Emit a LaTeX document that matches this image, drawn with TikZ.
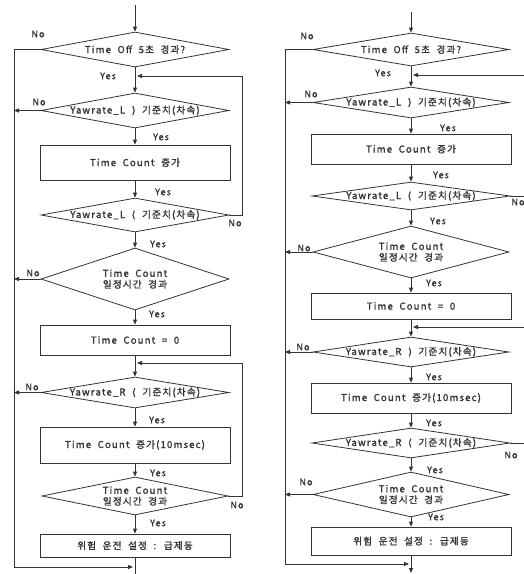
\documentclass[tikz,border=0pt]{standalone}
\usepackage{fontspec}
\setmainfont{Noto Sans CJK KR}[LetterSpace=12,WordSpace=2,FakeBold=1.5]
\newfontfamily\brk{DejaVu Sans}[FakeBold=1.5]
\newcommand{\gtb}{{\brk ⟩}}
\newcommand{\ltb}{{\brk ⟨}}
\usetikzlibrary{shapes.geometric,arrows.meta}
\definecolor{ink}{HTML}{333333}
\begin{document}
\begin{tikzpicture}[x=1pt,y=-1pt,
  line/.style={draw=ink,line width=0.8pt},
  arr/.style={line,-{Triangle[length=5pt,width=4pt]}},
  dia/.style={diamond,draw=ink,line width=0.8pt,inner sep=0pt,aspect=5},
  box/.style={rectangle,draw=ink,line width=0.8pt,inner sep=0pt},
  txt/.style={text=ink,font=\fontsize{9.6}{11}\selectfont,align=center,inner sep=0pt},
  lbl/.style={text=ink,font=\fontsize{9}{10}\selectfont,inner sep=0pt}]
\useasboundingbox (0,0) rectangle (524,574);
\clip (0,0) rectangle (524,574);
% ---------------- left chart ----------------
\node[dia,minimum width=188,minimum height=35] (L1) at (135,49.5) {};
\node[dia,minimum width=188,minimum height=35] (L2) at (135,110.5) {};
\node[box,minimum width=190,minimum height=35] (LB1) at (135,162.5) {};
\node[dia,minimum width=188,minimum height=34] (L3) at (135,215) {};
\node[dia,minimum width=188,minimum height=62] (L4) at (135,279) {};
\node[box,minimum width=190,minimum height=30] (LB2) at (135,340) {};
\node[dia,minimum width=188,minimum height=31] (L5) at (135,392.5) {};
\node[box,minimum width=190,minimum height=36] (LB3) at (135,445) {};
\node[dia,minimum width=186,minimum height=38] (L6) at (135,496) {};
\node[box,minimum width=190,minimum height=23] (LB4) at (135,545.5) {};
\node[txt] (L1t) at (L1) {Time Off 5초 경과?};
\node[txt] (L2t) at (L2) {Yawrate\_L \gtb{} 기준치(차속)};
\node[txt] (LB1t) at (LB1) {Time Count 증가};
\node[txt] (L3t) at (L3) {Yawrate\_L \ltb{} 기준치(차속)};
\node[txt] (L4t) at (L4) {Time Count\\일정시간 경과};
\node[txt] (LB2t) at (LB2) {Time Count = 0};
\node[txt] (L5t) at (L5) {Yawrate\_R \ltb{} 기준치(차속)};
\node[txt] (LB3t) at (LB3) {Time Count 증가(10msec)};
\node[txt] (L6t) at (L6) {Time Count\\일정시간 경과};
\node[txt] (LB4t) at (LB4) {위험 운전 설정 : 급제동};
\coordinate (Ltop) at (135,5);
\coordinate (LbyT) at (14,49.5);
\coordinate (LbyB) at (14,567);
\coordinate (Lend) at (133,567);
\coordinate (Lbot) at (135,574);
\coordinate (Lfb1) at (242,76);
\coordinate (Lj1) at (137,76);
\coordinate (Lfb2) at (242,363);
\coordinate (Lj2) at (137,363);
\draw[arr] (Ltop) -- (L1.north);
\draw[arr] (L1.south) -- (L2.north);
\draw[arr] (L2.south) -- (LB1.north);
\draw[arr] (LB1.south) -- (L3.north);
\draw[arr] (L3.south) -- (L4.north);
\draw[arr] (L4.south) -- (LB2.north);
\draw[arr] (LB2.south) -- (L5.north);
\draw[arr] (L5.south) -- (LB3.north);
\draw[arr] (LB3.south) -- (L6.north);
\draw[arr] (L6.south) -- (LB4.north);
\draw[line] (LB4.south) -- (Lbot);
\draw[line] (L1.west) -- (LbyT) -- (LbyB);
\draw[arr] (LbyB) -- (Lend);
\draw[arr] (L2.west) -- (L2.west -| LbyT);
\draw[arr] (L4.west) -- (L4.west -| LbyT);
\draw[arr] (L5.west) -- (L5.west -| LbyT);
\draw[arr] (L3.east) -| (Lfb1) -- (Lj1);
\draw[arr] (L6.east) -| (Lfb2) -- (Lj2);
\node[lbl] (ln1) at (38,34) {No};
\node[lbl] (ly1) at (108,76) {Yes};
\node[lbl] (ln2) at (39,102) {No};
\node[lbl] (ly2) at (161,137) {Yes};
\node[lbl] (ly3) at (163,192) {Yes};
\node[lbl] (ln3) at (235,223) {No};
\node[lbl] (ly4) at (158,244) {Yes};
\node[lbl] (ln4) at (33,273) {No};
\node[lbl] (ly5) at (157,314) {Yes};
\node[lbl] (ln5) at (32,387) {No};
\node[lbl] (ly6) at (157,420) {Yes};
\node[lbl] (ly7) at (158,473) {Yes};
\node[lbl] (ln6) at (237,505) {No};
\node[lbl] (ly8) at (158,523) {Yes};
% ---------------- right chart ----------------
\node[dia,minimum width=196,minimum height=33] (R1) at (411,49.5) {};
\node[dia,minimum width=196,minimum height=31] (R2) at (411,102.5) {};
\node[box,minimum width=200,minimum height=30] (RB1) at (411,149) {};
\node[dia,minimum width=198,minimum height=28] (R3) at (411,196) {};
\node[dia,minimum width=196,minimum height=52] (R4) at (411,252) {};
\node[box,minimum width=200,minimum height=26] (RB2) at (411,306) {};
\node[dia,minimum width=196,minimum height=30] (R5) at (411,352) {};
\node[box,minimum width=200,minimum height=30] (RB3) at (411,398) {};
\node[dia,minimum width=198,minimum height=30] (R6) at (411,443) {};
\node[dia,minimum width=196,minimum height=45] (R7) at (411,494.5) {};
\node[box,minimum width=200,minimum height=28] (RB4) at (411,541) {};
\node[txt] (R1t) at (R1) {Time Off 5초 경과?};
\node[txt] (R2t) at (R2) {Yawrate\_L \gtb{} 기준치(차속)};
\node[txt] (RB1t) at (RB1) {Time Count 증가};
\node[txt] (R3t) at (R3) {Yawrate\_L \ltb{} 기준치(차속)};
\node[txt] (R4t) at (R4) {Time Count\\일정시간 경과};
\node[txt] (RB2t) at (RB2) {Time Count = 0};
\node[txt] (R5t) at (R5) {Yawrate\_R \gtb{} 기준치(차속)};
\node[txt] (RB3t) at (RB3) {Time Count 증가(10msec)};
\node[txt] (R6t) at (R6) {Yawrate\_R \ltb{} 기준치(차속)};
\node[txt] (R7t) at (R7) {Time Count\\일정시간 경과};
\node[txt] (RB4t) at (RB4) {위험 운전 설정 : 급제동};
\coordinate (Rtop) at (411,12);
\coordinate (RbyT) at (285,49.5);
\coordinate (RbyB) at (285,564);
\coordinate (Rend) at (409,564);
\coordinate (Rbot) at (411,573);
\coordinate (Rfb1) at (528,75);
\coordinate (Rj1) at (413,75);
\coordinate (Rfb2) at (528,327);
\coordinate (Rj2) at (413,327);
\draw[arr] (Rtop) -- (R1.north);
\draw[arr] (R1.south) -- (R2.north);
\draw[arr] (R2.south) -- (RB1.north);
\draw[arr] (RB1.south) -- (R3.north);
\draw[arr] (R3.south) -- (R4.north);
\draw[arr] (R4.south) -- (RB2.north);
\draw[arr] (RB2.south) -- (R5.north);
\draw[arr] (R5.south) -- (RB3.north);
\draw[arr] (RB3.south) -- (R6.north);
\draw[arr] (R6.south) -- (R7.north);
\draw[arr] (R7.south) -- (RB4.north);
\draw[arr] (RB4.south) -- (Rbot);
\draw[line] (R1.west) -- (RbyT) -- (RbyB);
\draw[arr] (RbyB) -- (Rend);
\draw[arr] (R2.west) -- (R2.west -| RbyT);
\draw[arr] (R4.west) -- (R4.west -| RbyT);
\draw[arr] (R5.west) -- (R5.west -| RbyT);
\draw[arr] (R7.west) -- (R7.west -| RbyT);
\draw[arr] (R3.east) -| (Rfb1) -- (Rj1);
\draw[arr] (R6.east) -| (Rfb2) -- (Rj2);
\node[lbl] (rn1) at (307,36) {No};
\node[lbl] (ry1) at (383,73) {Yes};
\node[lbl] (rn2) at (311,94) {No};
\node[lbl] (ry2) at (448,128) {Yes};
\node[lbl] (ry3) at (441,175) {Yes};
\node[lbl] (rn3) at (518,202) {No};
\node[lbl] (ry4) at (438,221) {Yes};
\node[lbl] (rn4) at (304,248) {No};
\node[lbl] (ry5) at (434,283) {Yes};
\node[lbl] (rn5) at (303,347) {No};
\node[lbl] (ry6) at (434,377) {Yes};
\node[lbl] (ry7) at (434,423) {Yes};
\node[lbl] (rn6) at (511,455) {No};
\node[lbl] (ry8) at (435,470) {Yes};
\node[lbl] (rn7) at (306,482) {No};
\node[lbl] (ry9) at (436,517) {Yes};
\end{tikzpicture}
\end{document}
